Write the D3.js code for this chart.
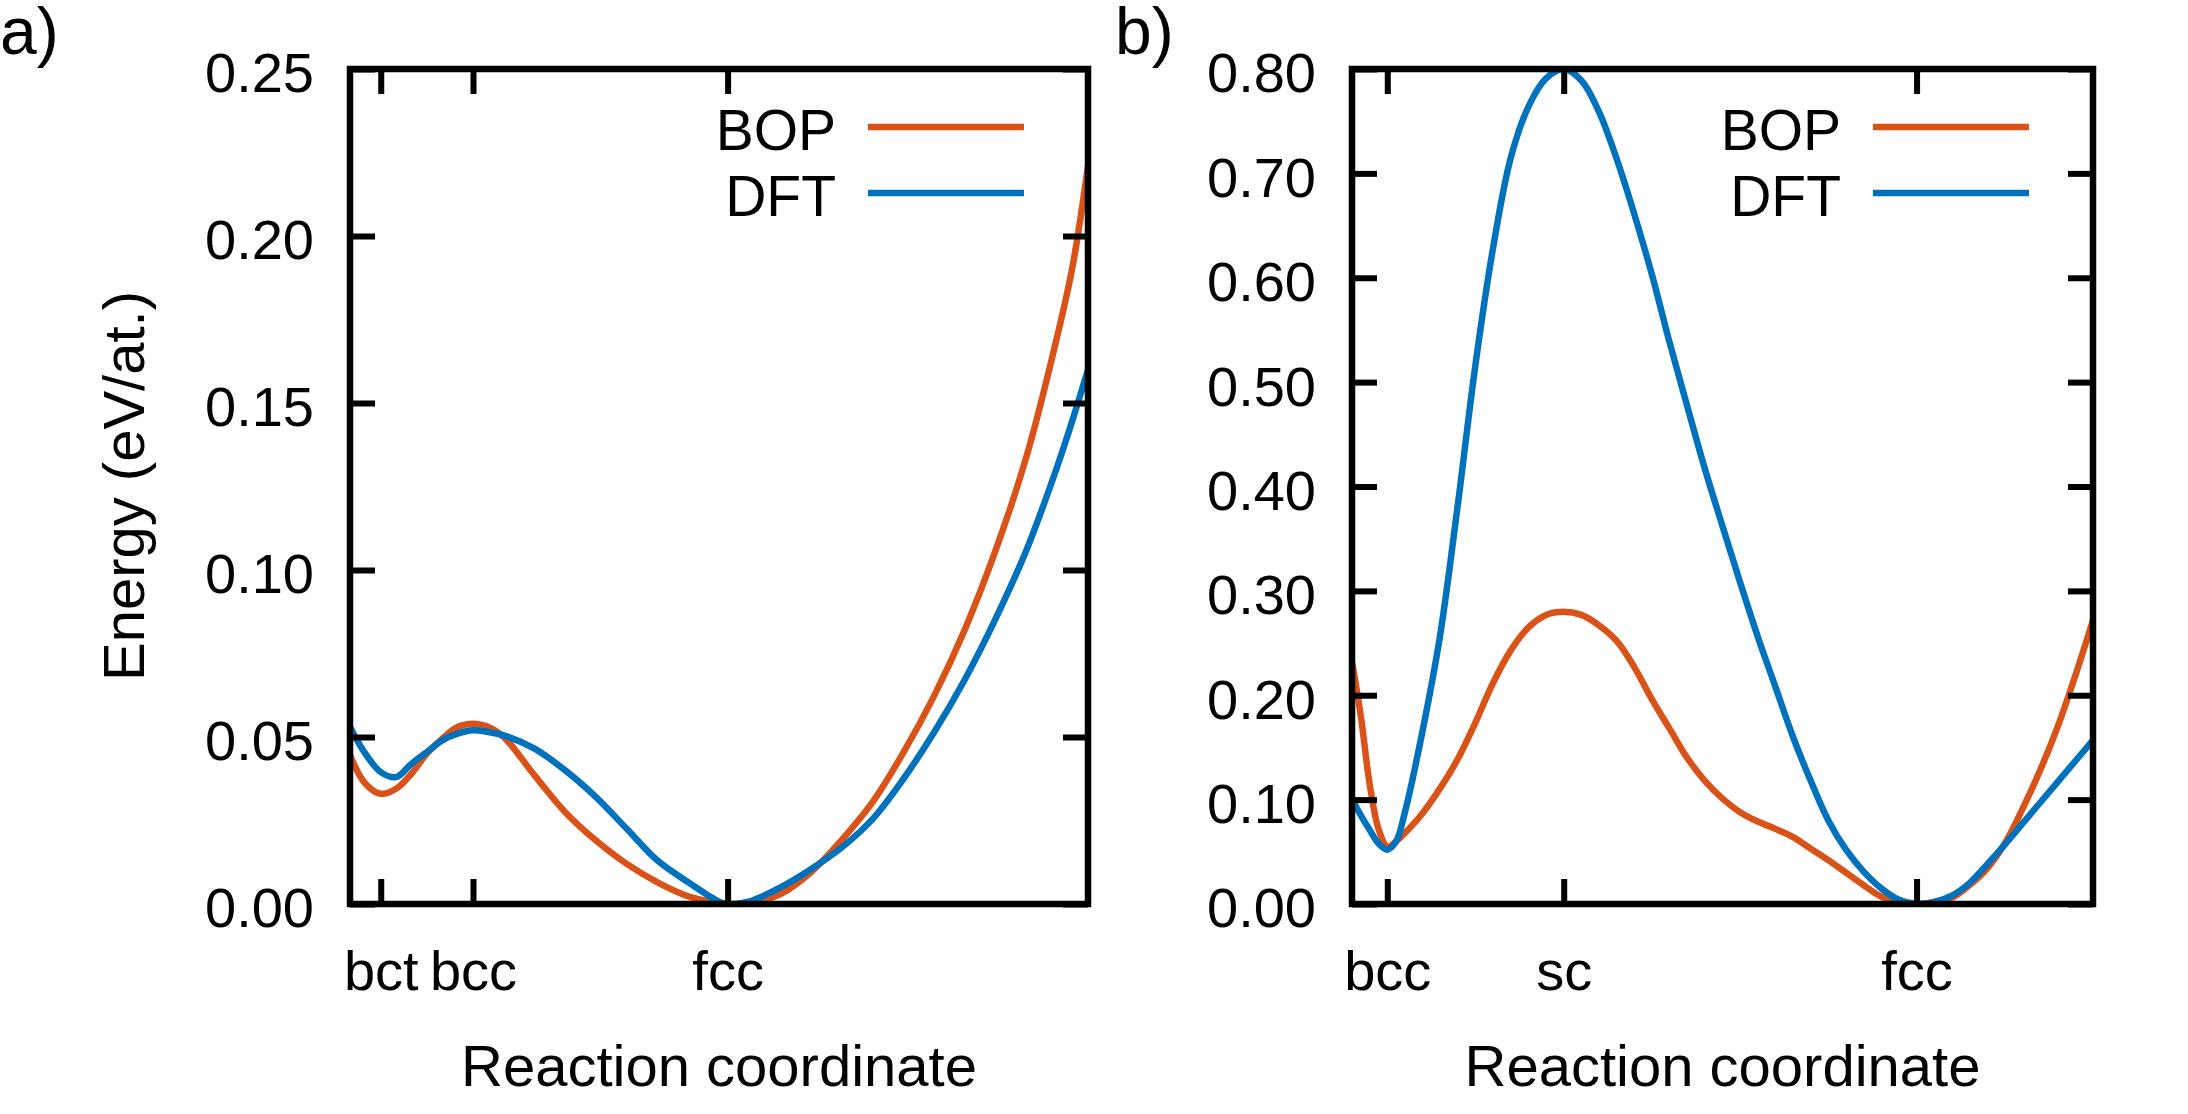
<!DOCTYPE html>
<html>
<head>
<meta charset="utf-8">
<script src="https://cdn.jsdelivr.net/npm/d3@7"></script>
<style>
  html, body { margin: 0; padding: 0; background: #fff; }
  svg { display: block; }
  text { font-family: "Liberation Sans", Arial, Helvetica, sans-serif; fill: #000; }
</style>
</head>
<body>
<svg id="chart" width="2188" height="1114"></svg>
<script>
// Bain path (a): reaction coordinate c/a, bct -> bcc -> fcc
const bainCoord = [0.80, 0.825, 0.85, 0.875, 0.90, 0.925, 0.95, 0.975, 1.00, 1.025, 1.05, 1.10, 1.15,
  1.20, 1.25, 1.30, 1.35, 1.40, 1.414, 1.45, 1.50, 1.55, 1.60, 1.65, 1.70, 1.75, 1.80, 1.85, 1.90,
  1.95, 1.975, 2.00];
const bainBOP = [0.0445, 0.036, 0.033, 0.0345, 0.039, 0.045, 0.0495, 0.053, 0.054, 0.053, 0.050, 0.0385,
  0.0275, 0.019, 0.012, 0.0065, 0.0023, 0.0003, 0.0, 0.0002, 0.003, 0.0096, 0.0193, 0.0306, 0.0454,
  0.0624, 0.0823, 0.106, 0.134, 0.170, 0.191, 0.221];
const bainDFT = [0.053, 0.045, 0.0395, 0.038, 0.042, 0.0455, 0.049, 0.051, 0.052, 0.0515, 0.0505, 0.0465,
  0.040, 0.032, 0.0225, 0.013, 0.0065, 0.0007, 0.0, 0.0008, 0.005, 0.0105, 0.017, 0.0255, 0.0375,
  0.0515, 0.0673, 0.0855, 0.106, 0.131, 0.145, 0.160];

// trigonal path (b): bcc -> sc -> fcc
const trigCoord = [0.80, 0.85, 0.90, 0.95, 1.00, 1.05, 1.10, 1.20, 1.30, 1.40, 1.50, 1.60, 1.70, 1.80,
  1.90, 2.00, 2.10, 2.20, 2.30, 2.40, 2.50, 2.60, 2.70, 2.80, 2.90, 3.00, 3.10, 3.20, 3.30, 3.40,
  3.50, 3.60, 3.70, 3.80, 3.90, 4.00, 4.10, 4.20, 4.30, 4.40, 4.50, 4.60, 4.70, 4.80, 4.90, 5.00];
const trigBOP = [0.232, 0.180, 0.115, 0.072, 0.055, 0.060, 0.068, 0.087, 0.111, 0.139, 0.174, 0.212,
  0.243, 0.265, 0.277, 0.280, 0.277, 0.267, 0.252, 0.227, 0.196, 0.168, 0.140, 0.118, 0.101, 0.088,
  0.079, 0.072, 0.064, 0.053, 0.042, 0.030, 0.018, 0.007, 0.002, 0.0, 0.002, 0.006, 0.018, 0.034,
  0.058, 0.091, 0.128, 0.170, 0.219, 0.272];
const trigDFT = [0.100, 0.085, 0.071, 0.058, 0.052, 0.060, 0.088, 0.166, 0.258, 0.383, 0.517, 0.629,
  0.715, 0.764, 0.791, 0.800, 0.789, 0.759, 0.714, 0.661, 0.603, 0.538, 0.477, 0.417, 0.362, 0.308,
  0.256, 0.208, 0.160, 0.118, 0.080, 0.052, 0.031, 0.015, 0.004, 0.0, 0.002, 0.008, 0.020, 0.038,
  0.057, 0.077, 0.097, 0.117, 0.137, 0.157];

const bainTicks = [0.85, 1.0, 1.414];
const bainTickLabels = ["bct", "bcc", "fcc"];
const trigTicks = [1, 2, 4];
const trigTickLabels = ["bcc", "sc", "fcc"];
const bainYTicks = [0, 0.05, 0.10, 0.15, 0.20, 0.25];
const trigYTicks = [0, 0.10, 0.20, 0.30, 0.40, 0.50, 0.60, 0.70, 0.80];

const seriesNames = ["BOP", "DFT"];
const COLORS = { BOP: "#d95319", DFT: "#0072bd" };
const FONT = 56;
const TITLE_FONT = 58;

const svg = d3.select("#chart");

function drawPanel(cfg) {
  const x = d3.scaleLinear().domain(cfg.xDomain).range([cfg.left, cfg.right]);
  const y = d3.scaleLinear().domain(cfg.yDomain).range([904, 69]);
  const g = svg.append("g");

  const clipId = "clip-" + cfg.id;
  g.append("clipPath").attr("id", clipId)
    .append("rect")
    .attr("x", cfg.left).attr("y", 69)
    .attr("width", cfg.right - cfg.left).attr("height", 904 - 69);

  const line = d3.line()
    .x((d) => x(d[0]))
    .y((d) => y(d[1]))
    .curve(d3.curveCatmullRom.alpha(0.5));

  const series = { BOP: cfg.bop, DFT: cfg.dft };
  seriesNames.forEach((name) => {
    g.append("path")
      .datum(cfg.coord.map((c, i) => [c, series[name][i]]))
      .attr("clip-path", `url(#${clipId})`)
      .attr("fill", "none")
      .attr("stroke", COLORS[name])
      .attr("stroke-width", 6.5)
      .attr("stroke-linejoin", "round")
      .attr("d", line);
  });

  const styleAxis = (sel) => {
    sel.select(".domain").remove();
    sel.selectAll("line").attr("stroke", "#000").attr("stroke-width", 6);
    sel.selectAll("text")
      .attr("font-family", "Liberation Sans, Arial, Helvetica, sans-serif")
      .attr("font-size", FONT)
      .attr("fill", "#000");
  };

  // y ticks, labelled left, mirrored right
  g.append("g")
    .attr("transform", `translate(${cfg.left},0)`)
    .call(d3.axisLeft(y).tickValues(cfg.yTicks).tickFormat(d3.format(".2f"))
      .tickSizeInner(-25).tickSizeOuter(0).tickPadding(36))
    .call(styleAxis)
    .selectAll("text").attr("dy", "0.41em");
  g.append("g")
    .attr("transform", `translate(${cfg.right},0)`)
    .call(d3.axisRight(y).tickValues(cfg.yTicks).tickFormat("")
      .tickSizeInner(-25).tickSizeOuter(0))
    .call(styleAxis);

  // x ticks, labelled bottom, mirrored top
  g.append("g")
    .attr("transform", "translate(0,904)")
    .call(d3.axisBottom(x).tickValues(cfg.xTicks)
      .tickFormat((d, i) => cfg.xTickLabels[i])
      .tickSizeInner(-25).tickSizeOuter(0).tickPadding(46))
    .call(styleAxis);
  g.append("g")
    .attr("transform", "translate(0,69)")
    .call(d3.axisTop(x).tickValues(cfg.xTicks).tickFormat("")
      .tickSizeInner(-25).tickSizeOuter(0))
    .call(styleAxis);

  // frame
  g.append("rect")
    .attr("x", cfg.left).attr("y", 69)
    .attr("width", cfg.right - cfg.left).attr("height", 904 - 69)
    .attr("fill", "none").attr("stroke", "#000").attr("stroke-width", 6.5);

  // legend
  seriesNames.forEach((name, i) => {
    const ly = 127 + i * 66;
    g.append("text")
      .attr("x", cfg.right - 252).attr("y", ly + 23)
      .attr("text-anchor", "end").attr("font-size", 57)
      .text(name);
    g.append("line")
      .attr("x1", cfg.right - 220).attr("x2", cfg.right - 64)
      .attr("y1", ly).attr("y2", ly)
      .attr("stroke", COLORS[name]).attr("stroke-width", 6.5);
  });

  g.append("text")
    .attr("x", (cfg.left + cfg.right) / 2).attr("y", 1086)
    .attr("text-anchor", "middle").attr("font-size", TITLE_FONT)
    .text("Reaction coordinate");

  g.append("text")
    .attr("x", cfg.labelX).attr("y", 54)
    .attr("font-size", 66)
    .text(cfg.label);
}

drawPanel({
  id: "a", label: "a)", labelX: 0,
  left: 350, right: 1088,
  xDomain: [0.8, 2.0], yDomain: [0, 0.25],
  coord: bainCoord, bop: bainBOP, dft: bainDFT,
  xTicks: bainTicks, xTickLabels: bainTickLabels, yTicks: bainYTicks,
});

drawPanel({
  id: "b", label: "b)", labelX: 1115,
  left: 1352, right: 2093,
  xDomain: [0.8, 5.0], yDomain: [0, 0.8],
  coord: trigCoord, bop: trigBOP, dft: trigDFT,
  xTicks: trigTicks, xTickLabels: trigTickLabels, yTicks: trigYTicks,
});

svg.append("text")
  .attr("transform", "translate(144,486) rotate(-90)")
  .attr("text-anchor", "middle").attr("font-size", TITLE_FONT)
  .text("Energy (eV/at.)");
</script>
</body>
</html>
